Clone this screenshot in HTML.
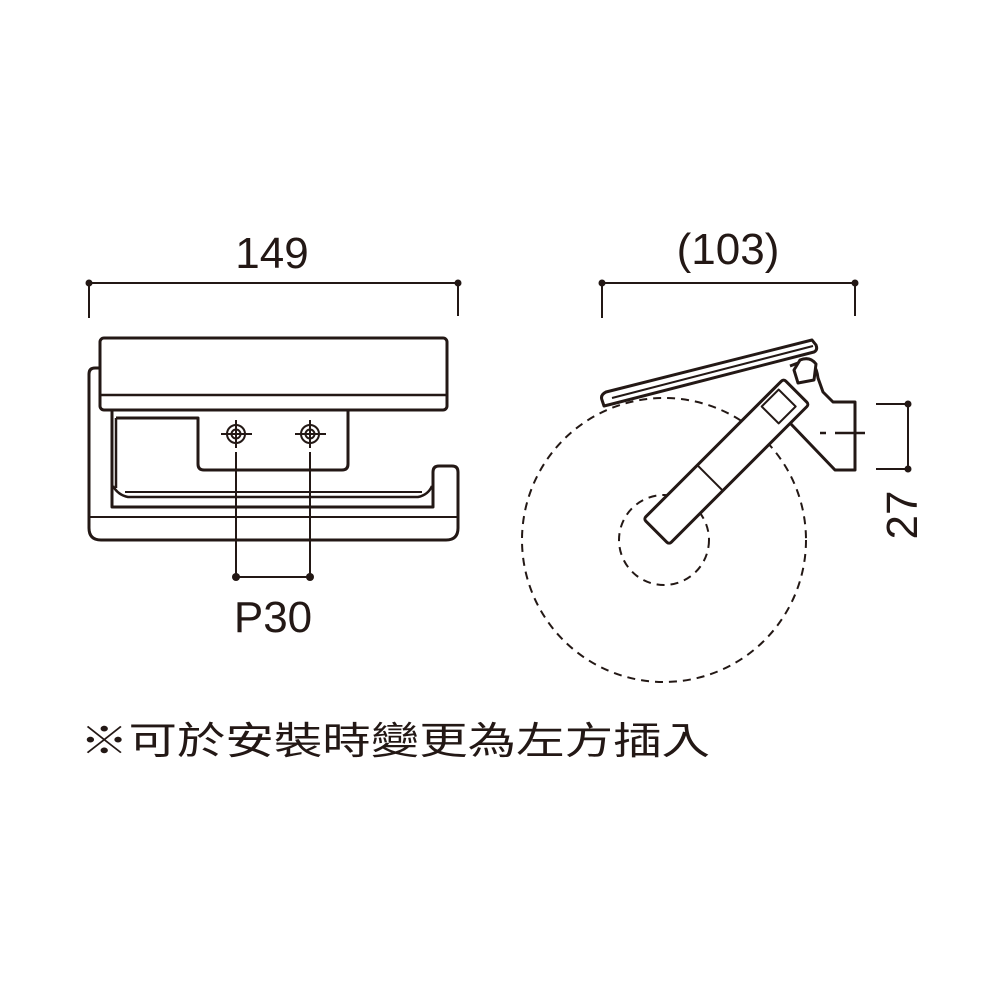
<!DOCTYPE html>
<html><head><meta charset="utf-8"><style>
html,body{margin:0;padding:0;background:#fff;}
svg{display:block}
text{font-family:"Liberation Sans","Noto Sans CJK TC",sans-serif;fill:#231815}
</style></head><body>
<svg width="1000" height="1000" viewBox="0 0 1000 1000" xmlns="http://www.w3.org/2000/svg">
<g stroke="#231815" fill="none" stroke-width="3" stroke-linejoin="round">
<line x1="89" y1="283" x2="458" y2="283" stroke-width="2"/>
<line x1="89" y1="283" x2="89" y2="318" stroke-width="2"/>
<line x1="458" y1="283" x2="458" y2="316" stroke-width="2"/>
<circle cx="89" cy="283" r="3.5" fill="#231815" stroke="none"/>
<circle cx="458" cy="283" r="3.5" fill="#231815" stroke="none"/>
<path d="M100 368 L95 368 Q89 368 89 374 L89 528 Q89 540 101 540 L446 540 Q458 540 458 528 L458 472 Q458 466 452 466 L439 466 Q433 466 433 472 L433 507 L112 507 L112 410"/>
<line x1="89" y1="517" x2="458" y2="517" stroke-width="2"/>
<path d="M113 486 Q118 495 128 497 L418 497 Q428 495 432 486" stroke-width="2.5"/>
<line x1="125" y1="492" x2="422" y2="492" stroke-width="2"/>
<rect x="100" y="338" width="347" height="72" rx="4" fill="#fff"/>
<line x1="101" y1="395" x2="446" y2="395" stroke-width="2.5"/>
<line x1="112" y1="410" x2="347" y2="410" stroke-width="2"/>
<path d="M116 418 L198 418 L198 464 Q198 470 204 470 L342 470 Q348 470 348 464 L348 410"/>
<line x1="116" y1="418" x2="116" y2="488" stroke-width="2.5"/>
<g stroke-width="2">
<circle cx="236" cy="434" r="9"/><circle cx="236" cy="434" r="4.5"/>
<line x1="221" y1="434" x2="252" y2="434"/><line x1="236" y1="420" x2="236" y2="448"/>
<circle cx="310" cy="434" r="9"/><circle cx="310" cy="434" r="4.5"/>
<line x1="295" y1="434" x2="326" y2="434"/><line x1="310" y1="420" x2="310" y2="448"/>
<line x1="236" y1="452" x2="236" y2="577"/><line x1="310" y1="452" x2="310" y2="577"/>
<line x1="236" y1="577" x2="310" y2="577"/>
</g>
<circle cx="236" cy="577" r="4" fill="#231815" stroke="none"/>
<circle cx="310" cy="577" r="4" fill="#231815" stroke="none"/>

<line x1="602" y1="283" x2="855" y2="283" stroke-width="2"/>
<line x1="602" y1="283" x2="602" y2="318" stroke-width="2"/>
<line x1="855" y1="283" x2="855" y2="316" stroke-width="2"/>
<circle cx="602" cy="283" r="3.5" fill="#231815" stroke="none"/>
<circle cx="855" cy="283" r="3.5" fill="#231815" stroke="none"/>
<circle cx="664" cy="540" r="142" stroke-width="2" stroke-dasharray="8 6"/>
<circle cx="664" cy="540" r="45" stroke-width="2" stroke-dasharray="8 6"/>
<path d="M790 423 L835 470 L855 470 L855 402 L833 402 L823 392 L818 378 Q816 362 806 360 L790 366" fill="#fff"/>
<line x1="820" y1="433" x2="826" y2="433" stroke-width="2.5"/>
<line x1="835" y1="433" x2="865" y2="433" stroke-width="2.5"/>
<g transform="translate(662,526) rotate(-45)">
<rect x="-8" y="-18" width="198" height="36" rx="3" fill="#fff"/>
<line x1="68" y1="-18" x2="68" y2="18" stroke-width="2"/>
<rect x="155" y="-14" width="24" height="24" stroke-width="2"/>
</g>
<path d="M798 383 L814 380 L816 364 Q810 356 800 360 L794 370 Z" fill="#fff" stroke-width="3"/>
<path d="M604 406 L612 404 L814 352 Q818 350 816 345 L812 340 L606 392 Q600 395 602 400 Z" fill="#fff"/>
<line x1="612" y1="398" x2="813" y2="346" stroke-width="2"/>
<line x1="876" y1="404" x2="908" y2="404" stroke-width="2"/>
<line x1="876" y1="469" x2="908" y2="469" stroke-width="2"/>
<line x1="908" y1="404" x2="908" y2="469" stroke-width="2"/>
<circle cx="908" cy="404" r="3.5" fill="#231815" stroke="none"/>
<circle cx="908" cy="469" r="3.5" fill="#231815" stroke="none"/>
</g>
<text x="272" y="268" font-size="44" text-anchor="middle">149</text>
<text x="728" y="264" font-size="44" text-anchor="middle">(103)</text>
<text x="273" y="632" font-size="44" text-anchor="middle">P30</text>
<text transform="translate(917,515) rotate(-90)" font-size="44" text-anchor="middle">27</text>
<text x="80" y="754" font-size="38" textLength="630" lengthAdjust="spacingAndGlyphs">※可於安裝時變更為左方插入</text>
</svg>
</body></html>
